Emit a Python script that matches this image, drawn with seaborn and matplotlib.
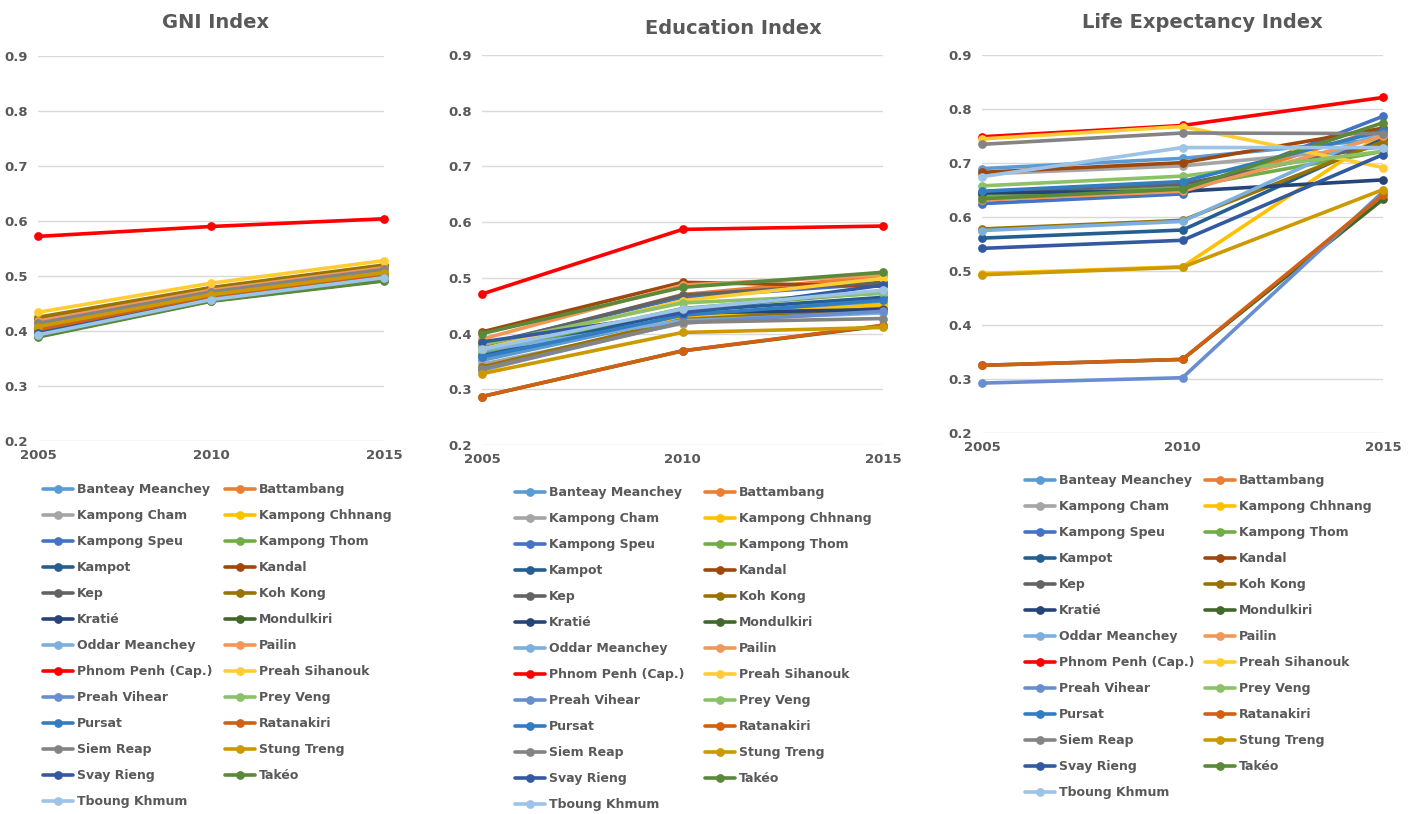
import matplotlib
matplotlib.use("Agg")
import matplotlib.pyplot as plt
from matplotlib.lines import Line2D
from matplotlib.legend import Legend
import seaborn as sns
import pandas as pd

sns.set_style("white")
plt.rcParams["font.family"] = ["DejaVu Sans"]

years = [2005, 2010, 2015]

provinces = [
    "Banteay Meanchey", "Battambang", "Kampong Cham", "Kampong Chhnang",
    "Kampong Speu", "Kampong Thom", "Kampot", "Kandal", "Kep", "Koh Kong",
    "Kratié", "Mondulkiri", "Oddar Meanchey", "Pailin", "Phnom Penh (Cap.)",
    "Preah Sihanouk", "Preah Vihear", "Prey Veng", "Pursat", "Ratanakiri",
    "Siem Reap", "Stung Treng", "Svay Rieng", "Takéo", "Tboung Khmum",
]

colors = [
    "#5B9BD5", "#ED7D31", "#A5A5A5", "#FFC000", "#4472C4", "#70AD47",
    "#255E91", "#9E480E", "#636363", "#997300", "#264478", "#43682B",
    "#7CAFDD", "#F1975A", "#FF0000", "#FFCD33", "#698ED0", "#8CC168",
    "#327DC2", "#D26012", "#848484", "#CC9A00", "#335AA1", "#5A8A39",
    "#9DC3E6",
]

# GNI Index (2005, 2010, 2015)
gni = [
    [0.398, 0.459, 0.499], [0.404, 0.463, 0.503], [0.412, 0.469, 0.510],
    [0.406, 0.465, 0.505], [0.400, 0.460, 0.500], [0.397, 0.458, 0.498],
    [0.405, 0.464, 0.504], [0.420, 0.476, 0.517], [0.422, 0.477, 0.518],
    [0.425, 0.479, 0.520], [0.403, 0.462, 0.502], [0.390, 0.455, 0.492],
    [0.396, 0.458, 0.498], [0.418, 0.474, 0.515], [0.572, 0.590, 0.604],
    [0.434, 0.487, 0.528], [0.399, 0.459, 0.499], [0.395, 0.457, 0.496],
    [0.401, 0.461, 0.501], [0.402, 0.461, 0.501], [0.414, 0.471, 0.512],
    [0.408, 0.466, 0.506], [0.396, 0.457, 0.497], [0.389, 0.454, 0.491],
    [0.393, 0.457, 0.497],
]

# Education Index (2005, 2010, 2015)
education = [
    [0.352, 0.430, 0.455], [0.375, 0.470, 0.503], [0.345, 0.418, 0.448],
    [0.333, 0.428, 0.452], [0.380, 0.465, 0.490], [0.366, 0.445, 0.474],
    [0.360, 0.440, 0.465], [0.403, 0.492, 0.485], [0.378, 0.469, 0.492],
    [0.340, 0.425, 0.445], [0.383, 0.437, 0.443], [0.287, 0.369, 0.414],
    [0.370, 0.423, 0.437], [0.390, 0.487, 0.505], [0.471, 0.587, 0.593],
    [0.372, 0.459, 0.499], [0.335, 0.420, 0.440], [0.380, 0.455, 0.472],
    [0.358, 0.433, 0.460], [0.287, 0.369, 0.415], [0.337, 0.420, 0.427],
    [0.328, 0.402, 0.411], [0.385, 0.437, 0.487], [0.400, 0.483, 0.510],
    [0.372, 0.444, 0.478],
]

# Life Expectancy Index (2005, 2010, 2015)
life = [
    [0.690, 0.709, 0.745], [0.632, 0.648, 0.765], [0.680, 0.695, 0.730],
    [0.495, 0.508, 0.755], [0.625, 0.643, 0.787], [0.640, 0.655, 0.722],
    [0.561, 0.576, 0.745], [0.683, 0.701, 0.765], [0.645, 0.661, 0.735],
    [0.578, 0.594, 0.740], [0.645, 0.648, 0.669], [0.325, 0.336, 0.633],
    [0.575, 0.592, 0.760], [0.632, 0.648, 0.750], [0.749, 0.770, 0.822],
    [0.745, 0.768, 0.692], [0.292, 0.302, 0.647], [0.658, 0.676, 0.722],
    [0.648, 0.666, 0.760], [0.325, 0.336, 0.641], [0.735, 0.756, 0.755],
    [0.493, 0.507, 0.651], [0.542, 0.557, 0.716], [0.634, 0.652, 0.775],
    [0.675, 0.729, 0.729],
]

y_ticks = [0.2, 0.3, 0.4, 0.5, 0.6, 0.7, 0.8, 0.9]
x_ticks = [2005, 2010, 2015]

TEXT = "#595959"
GRID = "#D9D9D9"
W, H = 1419, 814
LW = 2.6
MS = 6.3
palette = dict(zip(provinces, colors))


def long_frame(values):
    rows = []
    for name, vals in zip(provinces, values):
        for yr, v in zip(years, vals):
            rows.append({"Province": name, "Year": yr, "Value": v})
    return pd.DataFrame(rows)


def px_rect(x0, x1, ytop, ybot):
    return [x0 / W, 1 - ybot / H, (x1 - x0) / W, (ybot - ytop) / H]


panels = [
    # title, values, axes rect (px), title pos (px), legend col x (px), legend top (px)
    ("GNI Index", gni, px_rect(38, 384, 56, 441), (216, 22), (43, 225), 483),
    ("Education Index", education, px_rect(482, 883, 55, 445), (733, 28), (515, 705), 486),
    ("Life Expectancy Index", life, px_rect(982, 1383, 55.4, 432.7), (1202, 22), (1025, 1205), 474),
]

fig = plt.figure(figsize=(W / 100, H / 100), dpi=100)

for title, values, rect, tpos, lcols, ltop in panels:
    ax = fig.add_axes(rect)
    df = long_frame(values)
    sns.lineplot(
        data=df, x="Year", y="Value", hue="Province", hue_order=provinces,
        palette=palette, marker="o", markersize=MS, markeredgewidth=0,
        linewidth=LW, legend=False, ax=ax, clip_on=False,
    )
    ax.set_xlim(2005, 2015)
    ax.set_ylim(0.2, 0.9)
    ax.set_xticks(x_ticks)
    ax.set_xticklabels([str(t) for t in x_ticks])
    ax.set_yticks(y_ticks)
    ax.set_yticklabels([f"{t:.1f}" for t in y_ticks])
    ax.set_xlabel("")
    ax.set_ylabel("")
    for s in ax.spines.values():
        s.set_visible(False)
    ax.yaxis.grid(True, color=GRID, linewidth=1.0)
    ax.xaxis.grid(False)
    ax.set_axisbelow(True)
    ax.tick_params(axis="both", length=0, colors=TEXT, labelsize=9.5)
    ax.tick_params(axis="y", pad=7)
    ax.tick_params(axis="x", pad=6)
    for lab in ax.get_xticklabels() + ax.get_yticklabels():
        lab.set_fontweight("bold")

    fig.text(tpos[0] / W, 1 - tpos[1] / H, title, ha="center", va="center",
             fontsize=14, fontweight="bold", color=TEXT)

    handles = [
        Line2D([0], [0], color=c, linewidth=LW, marker="o", markersize=MS,
               markeredgewidth=0)
        for c in colors
    ]
    for k, lx in enumerate(lcols):
        idx = list(range(k, len(provinces), 2))
        leg = Legend(
            ax, [handles[i] for i in idx], [provinces[i] for i in idx],
            loc="upper left", bbox_to_anchor=(lx / W, 1 - ltop / H),
            bbox_transform=fig.transFigure, frameon=False, fontsize=9,
            handlelength=2.4, handletextpad=0.3, labelspacing=1.04,
            borderpad=0, borderaxespad=0,
        )
        for t in leg.get_texts():
            t.set_color(TEXT)
            t.set_fontweight("bold")
        ax.add_artist(leg)

fig.savefig("out.png", dpi=100)
